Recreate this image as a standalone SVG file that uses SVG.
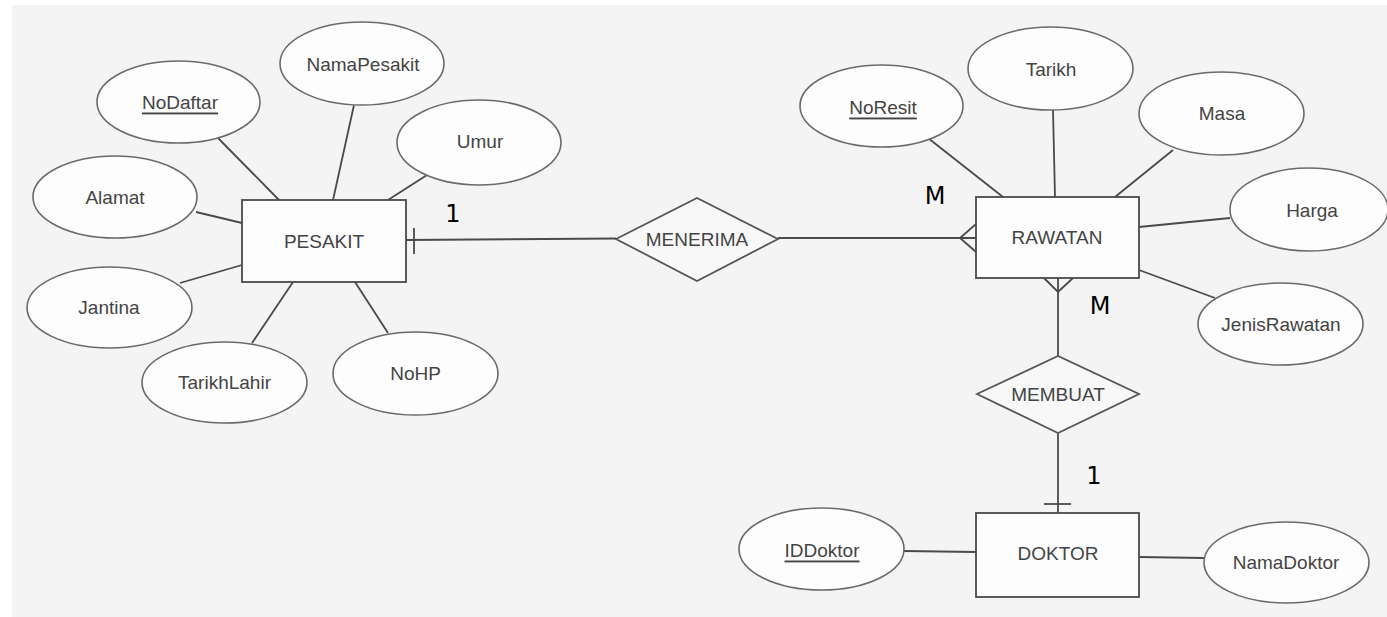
<svg xmlns="http://www.w3.org/2000/svg" width="1387" height="617" viewBox="0 0 1387 617">
<style>
.ent{fill:#fdfdfd;stroke:#4a4a4a;stroke-width:1.8}
.attr{fill:#fdfdfd;stroke:#6a6a6a;stroke-width:1.6}
.rel{fill:#f8f8f8;stroke:#555;stroke-width:1.8}
.lbl{font-family:"Liberation Sans",Arial,sans-serif;font-size:19px;fill:#444;text-anchor:middle;dominant-baseline:central}
.key{text-decoration:underline}
.card{font-family:"DejaVu Sans","Liberation Sans",sans-serif;font-size:24px;fill:#000;text-anchor:middle}
.con{stroke:#4a4a4a;stroke-width:1.8;fill:none}
</style>
<rect x="0" y="0" width="1387" height="617" fill="#ffffff"/>
<rect x="12" y="5" width="1375" height="612" fill="#f4f4f4"/>

<g id="connectors">
<line class="con" x1="218" y1="138" x2="279" y2="200"/>
<line class="con" x1="354" y1="105" x2="333" y2="200"/>
<line class="con" x1="427" y1="175" x2="388" y2="200"/>
<line class="con" x1="196" y1="212" x2="242" y2="223"/>
<line class="con" x1="180" y1="283" x2="242" y2="265"/>
<line class="con" x1="293" y1="282" x2="252" y2="343"/>
<line class="con" x1="355" y1="282" x2="388" y2="333"/>
<line class="con" x1="406" y1="240" x2="616" y2="238.5"/>
<line class="con" x1="414" y1="228" x2="414" y2="254"/>
<line class="con" x1="778" y1="238" x2="976" y2="238"/>
<polyline class="con" points="976,224 960,238 976,252"/>
<line class="con" x1="928" y1="138" x2="1003" y2="197"/>
<line class="con" x1="1053" y1="110" x2="1055" y2="197"/>
<line class="con" x1="1173" y1="150" x2="1115" y2="197"/>
<line class="con" x1="1139" y1="227" x2="1230" y2="218"/>
<line class="con" x1="1139" y1="270" x2="1215" y2="298"/>
<line class="con" x1="1058" y1="278" x2="1058" y2="356"/>
<polyline class="con" points="1044,278 1058,292 1073,278"/>
<line class="con" x1="1058" y1="433" x2="1058" y2="513"/>
<line class="con" x1="1044" y1="504" x2="1071" y2="504" stroke-width="3"/>
<line class="con" x1="904" y1="551" x2="976" y2="552"/>
<line class="con" x1="1139" y1="557" x2="1204" y2="558"/>
</g>

<g id="PESAKIT"><rect class="ent" x="242" y="200" width="164" height="82"/><text class="lbl" x="324" y="241">PESAKIT</text></g>
<g id="RAWATAN"><rect class="ent" x="976" y="197" width="163" height="81"/><text class="lbl" x="1057" y="237">RAWATAN</text></g>
<g id="DOKTOR"><rect class="ent" x="976" y="513" width="163" height="84"/><text class="lbl" x="1058" y="553">DOKTOR</text></g>

<g id="MENERIMA"><polygon class="rel" points="616,239 697,198 778,239 697,281"/><text class="lbl" x="697" y="239">MENERIMA</text></g>
<g id="MEMBUAT"><polygon class="rel" points="977,394 1058,356 1139,394 1058,433"/><text class="lbl" x="1058" y="394">MEMBUAT</text></g>

<g id="NoDaftar"><ellipse class="attr" cx="178.5" cy="102" rx="81.5" ry="41"/><text class="lbl key" x="180" y="102">NoDaftar</text></g>
<g id="NamaPesakit"><ellipse class="attr" cx="362" cy="63.5" rx="82" ry="41.5"/><text class="lbl" x="363" y="64">NamaPesakit</text></g>
<g id="Umur"><ellipse class="attr" cx="479" cy="142.5" rx="82" ry="42.5"/><text class="lbl" x="480" y="141">Umur</text></g>
<g id="Alamat"><ellipse class="attr" cx="115" cy="197" rx="82" ry="41"/><text class="lbl" x="115" y="197">Alamat</text></g>
<g id="Jantina"><ellipse class="attr" cx="109.5" cy="307.5" rx="82.5" ry="40.5"/><text class="lbl" x="109" y="307">Jantina</text></g>
<g id="TarikhLahir"><ellipse class="attr" cx="224.5" cy="382.5" rx="82.5" ry="40.5"/><text class="lbl" x="224.5" y="382">TarikhLahir</text></g>
<g id="NoHP"><ellipse class="attr" cx="415.5" cy="373.5" rx="82.5" ry="41.5"/><text class="lbl" x="415.5" y="373">NoHP</text></g>

<g id="NoResit"><ellipse class="attr" cx="881.5" cy="106" rx="81.5" ry="41"/><text class="lbl key" x="883" y="107">NoResit</text></g>
<g id="Tarikh"><ellipse class="attr" cx="1050.5" cy="68.5" rx="82.5" ry="41.5"/><text class="lbl" x="1051" y="69">Tarikh</text></g>
<g id="Masa"><ellipse class="attr" cx="1221.5" cy="113.5" rx="82.5" ry="41.5"/><text class="lbl" x="1222" y="113">Masa</text></g>
<g id="Harga"><ellipse class="attr" cx="1309" cy="209.5" rx="79" ry="41.5"/><text class="lbl" x="1312" y="210">Harga</text></g>
<g id="JenisRawatan"><ellipse class="attr" cx="1280.5" cy="324" rx="82.5" ry="41"/><text class="lbl" x="1281" y="324">JenisRawatan</text></g>

<g id="IDDoktor"><ellipse class="attr" cx="821.5" cy="549" rx="82.5" ry="41"/><text class="lbl key" x="822" y="550">IDDoktor</text></g>
<g id="NamaDoktor"><ellipse class="attr" cx="1286.5" cy="562.5" rx="82.5" ry="40.5"/><text class="lbl" x="1286" y="562">NamaDoktor</text></g>

<g id="cardinalities">
<text class="card" x="453" y="222">1</text>
<text class="card" x="935" y="204">M</text>
<text class="card" x="1100" y="314">M</text>
<text class="card" x="1094" y="484">1</text>
</g>
</svg>
